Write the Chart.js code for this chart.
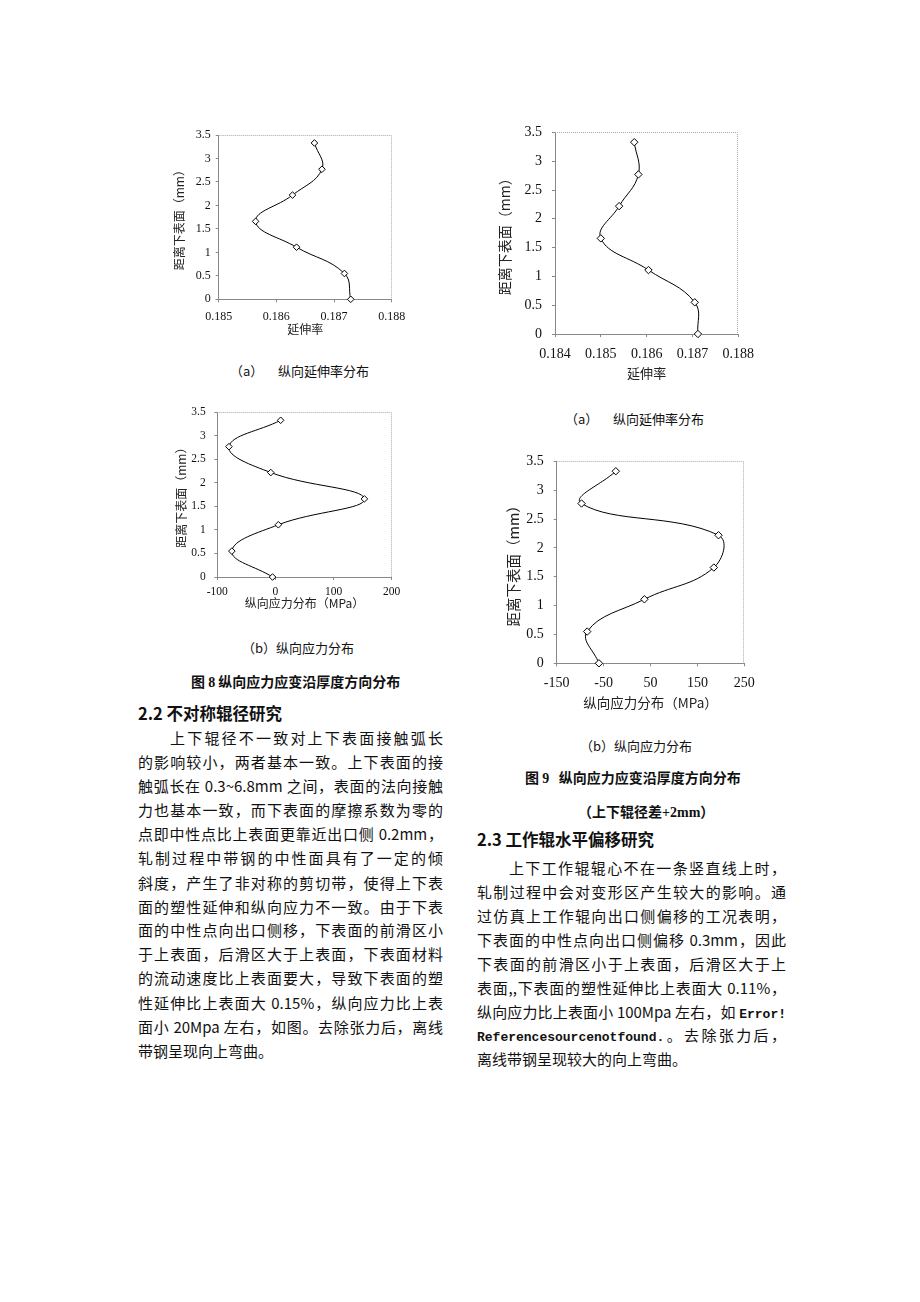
<!DOCTYPE html>
<html>
<head>
<meta charset="utf-8">
<script src="https://cdn.jsdelivr.net/npm/chart.js@4.4.1/dist/chart.umd.min.js"></script>
<style>
  body { margin: 0; width: 920px; height: 1302px; position: relative; overflow: hidden; background: #fff;
         font-family: "Noto Sans CJK SC", sans-serif; color: #111; }
  .chart { position: absolute; }
  .t { position: absolute; white-space: nowrap; line-height: 1; transform: translateY(-50%); }
  .cap { font-size: 13px; }
  .fig { font-size: 14px; font-weight: bold; }
  .head { font-size: 16.5px; font-weight: bold; }
  .ln { position: absolute; font-size: 15px; line-height: 1; white-space: nowrap; transform: translateY(-50%);
        text-align: justify; text-align-last: justify; }
  .ln.last { text-align-last: left; }
  .ln.ind { padding-left: 32px; box-sizing: border-box; }
  .mono { font-family: "Liberation Mono", monospace; font-weight: bold; font-size: 13px; }
  .num { font-family: "Liberation Serif", serif; }
</style>
</head>
<body>

<div id="c1" class="chart"></div>
<div id="c2" class="chart"></div>
<div id="c3" class="chart"></div>
<div id="c4" class="chart"></div>

<!-- captions, left column -->
<div class="t cap" style="left:230px; top:370px;">（a）&nbsp;&nbsp;&nbsp;&nbsp;&nbsp;纵向延伸率分布</div>
<div class="t cap" style="left:242px; top:647px;">（b）纵向应力分布</div>
<div class="t fig" style="left:191px; top:682px;">图 <span class="num">8</span> 纵向应力应变沿厚度方向分布</div>

<!-- captions, right column -->
<div class="t cap" style="left:565px; top:418px;">（a）&nbsp;&nbsp;&nbsp;&nbsp;&nbsp;纵向延伸率分布</div>
<div class="t cap" style="left:580px; top:745px;">（b）纵向应力分布</div>
<div class="t fig" style="left:525px; top:778px;">图 <span class="num">9</span>&nbsp;&nbsp;&nbsp;纵向应力应变沿厚度方向分布</div>
<div class="t fig" style="left:578px; top:812px;">（上下辊径差<span class="num">+2mm</span>）</div>

<!-- section 2.2 -->
<div class="t head" style="left:138px; top:713px;">2.2 不对称辊径研究</div>
<div class="ln ind" style="left:138px; width:305px; top:737px;">上下辊径不一致对上下表面接触弧长</div>
<div class="ln" style="left:138px; width:305px; top:761px;">的影响较小，两者基本一致。上下表面的接</div>
<div class="ln" style="left:138px; width:305px; top:785px;">触弧长在 0.3~6.8mm 之间，表面的法向接触</div>
<div class="ln" style="left:138px; width:305px; top:809px;">力也基本一致，而下表面的摩擦系数为零的</div>
<div class="ln" style="left:138px; width:305px; top:833px;">点即中性点比上表面更靠近出口侧 0.2mm，</div>
<div class="ln" style="left:138px; width:305px; top:857px;">轧制过程中带钢的中性面具有了一定的倾</div>
<div class="ln" style="left:138px; width:305px; top:882px;">斜度，产生了非对称的剪切带，使得上下表</div>
<div class="ln" style="left:138px; width:305px; top:906px;">面的塑性延伸和纵向应力不一致。由于下表</div>
<div class="ln" style="left:138px; width:305px; top:929px;">面的中性点向出口侧移，下表面的前滑区小</div>
<div class="ln" style="left:138px; width:305px; top:953px;">于上表面，后滑区大于上表面，下表面材料</div>
<div class="ln" style="left:138px; width:305px; top:977px;">的流动速度比上表面要大，导致下表面的塑</div>
<div class="ln" style="left:138px; width:305px; top:1002px;">性延伸比上表面大 0.15%，纵向应力比上表</div>
<div class="ln" style="left:138px; width:305px; top:1026px;">面小 20Mpa 左右，如图。去除张力后，离线</div>
<div class="ln last" style="left:138px; width:305px; top:1050px;">带钢呈现向上弯曲。</div>

<!-- section 2.3 -->
<div class="t head" style="left:477px; top:839px;">2.3 工作辊水平偏移研究</div>
<div class="ln ind" style="left:477px; width:309px; top:867px;">上下工作辊辊心不在一条竖直线上时，</div>
<div class="ln" style="left:477px; width:309px; top:891px;">轧制过程中会对变形区产生较大的影响。通</div>
<div class="ln" style="left:477px; width:309px; top:915px;">过仿真上工作辊向出口侧偏移的工况表明，</div>
<div class="ln" style="left:477px; width:309px; top:939px;">下表面的中性点向出口侧偏移 0.3mm，因此</div>
<div class="ln" style="left:477px; width:309px; top:963px;">下表面的前滑区小于上表面，后滑区大于上</div>
<div class="ln" style="left:477px; width:309px; top:987px;">表面,,下表面的塑性延伸比上表面大 0.11%，</div>
<div class="ln" style="left:477px; width:309px; top:1012px;">纵向应力比上表面小 100Mpa 左右，如 <span class="mono">Error!</span></div>
<div class="ln" style="left:477px; width:309px; top:1035px;"><span class="mono">Referencesourcenotfound.</span>。去除张力后，</div>
<div class="ln last" style="left:477px; width:309px; top:1058px;">离线带钢呈现较大的向上弯曲。</div>

<script>
// distance from lower surface (mm), shared by all four charts
const depth = [3.33, 2.77, 2.22, 1.66, 1.11, 0.55, 0];
const depthTicks = [0, 0.5, 1, 1.5, 2, 2.5, 3, 3.5];

// fig 8
const elong8 = [0.18666, 0.18679, 0.18628, 0.18564, 0.18635, 0.18718, 0.18729];
const elong8Ticks = [0.185, 0.186, 0.187, 0.188];
const stress8 = [9, -80, -8, 153, 5, -75, -5];
const stress8Ticks = [-100, 0, 100, 200];

// fig 9
const elong9 = [0.18573, 0.18582, 0.18540, 0.18500, 0.18604, 0.18705, 0.18712];
const elong9Ticks = [0.184, 0.185, 0.186, 0.187, 0.188];
const stress9 = [-24, -97, 195, 185, 37, -85, -60];
const stress9Ticks = [-150, -50, 50, 150, 250];

const Y_TITLE = "距离下表面（mm）";
const ELONG_TITLE = "延伸率";
const STRESS_TITLE = "纵向应力分布（MPa）";

// dotted frame on the top and right of the plot area
const plotFrame = {
  id: "plotFrame",
  beforeDatasetsDraw(chart) {
    const { ctx, chartArea: a } = chart;
    ctx.save();
    ctx.strokeStyle = "#a8a8a8";
    ctx.lineWidth = 1;
    ctx.setLineDash([1, 1]);
    ctx.beginPath();
    ctx.moveTo(a.left, Math.round(a.top) + 0.5);
    ctx.lineTo(Math.round(a.right) - 0.5, Math.round(a.top) + 0.5);
    ctx.lineTo(Math.round(a.right) - 0.5, a.bottom);
    ctx.stroke();
    ctx.restore();
  }
};

function makeChart(id, xs, xTicks, xTitle, g) {
  const lhX = g.titleSize * 1.2;
  const lhY = g.yTitleSize * 1.2;
  const bx = Math.round(g.yTitleX - 14);
  const by = Math.round(g.plot.t - 16);
  const bw = Math.round(g.plot.r + 24 - bx);
  const bh = Math.round(g.xTitleY + 12 - by);

  const padLeft = g.yTitleX - lhY / 2 - bx;
  const yWidth = g.plot.l - bx - padLeft;
  const padTop = g.plot.t - by;
  const padRight = bx + bw - g.plot.r;
  const xHeight = g.xTitleY + lhX / 2 - g.plot.b;
  const padBottom = by + bh - (g.plot.b + xHeight);

  const wrap = document.getElementById(id);
  wrap.style.left = bx + "px";
  wrap.style.top = by + "px";
  const canvas = document.createElement("canvas");
  canvas.width = bw;
  canvas.height = bh;
  wrap.appendChild(canvas);

  const tickFont = { family: "'Liberation Serif', serif", size: g.tickSize };
  const xTitleFont = { family: "'Noto Sans CJK SC', sans-serif", size: g.titleSize };
  const yTitleFont = { family: "'Noto Sans CJK SC', sans-serif", size: g.yTitleSize };
  const axisGrid = { drawOnChartArea: false, drawTicks: true, tickLength: 3, color: "#888" };

  new Chart(canvas.getContext("2d"), {
    type: "line",
    data: {
      datasets: [{
        data: xs.map((x, i) => ({ x, y: depth[i] })),
        borderColor: "#000",
        borderWidth: 1,
        tension: 0.42,
        fill: false,
        clip: false,
        pointStyle: "rectRot",
        pointRadius: g.pointR,
        pointBackgroundColor: "#fff",
        pointBorderColor: "#000",
        pointBorderWidth: 1
      }]
    },
    options: {
      responsive: false,
      animation: false,
      layout: { padding: { left: padLeft, top: padTop, right: padRight, bottom: padBottom } },
      plugins: { legend: { display: false }, tooltip: { enabled: false } },
      scales: {
        x: {
          type: "linear",
          min: xTicks[0],
          max: xTicks[xTicks.length - 1],
          afterBuildTicks: (s) => { s.ticks = xTicks.map((v) => ({ value: v })); },
          afterFit: (s) => { s.height = xHeight; },
          ticks: { font: tickFont, color: "#111", padding: g.xPad, maxRotation: 0, autoSkip: false,
                   callback: (v) => String(v) },
          grid: axisGrid,
          border: { color: "#888" },
          title: { display: true, text: xTitle, font: xTitleFont, color: "#222", padding: 0 }
        },
        y: {
          type: "linear",
          min: 0,
          max: 3.5,
          afterBuildTicks: (s) => { s.ticks = depthTicks.map((v) => ({ value: v })); },
          afterFit: (s) => { s.width = yWidth; },
          ticks: { font: tickFont, color: "#111", padding: g.yPad, autoSkip: false,
                   callback: (v) => String(v) },
          grid: axisGrid,
          border: { color: "#888" },
          title: { display: true, text: Y_TITLE, font: yTitleFont, color: "#222", padding: 0 }
        }
      }
    },
    plugins: [plotFrame]
  });
}

makeChart("c1", elong8, elong8Ticks, ELONG_TITLE, {
  plot: { l: 218.7, r: 391.7, t: 135, b: 299.3 },
  yTitleX: 179, xTitleY: 329.5, tickSize: 12, titleSize: 12, yTitleSize: 12, xPad: 7, yPad: 5, pointR: 3.3
});
makeChart("c2", elong9, elong9Ticks, ELONG_TITLE, {
  plot: { l: 555, r: 739.3, t: 130, b: 334 },
  yTitleX: 505, xTitleY: 373.3, tickSize: 14, titleSize: 13, yTitleSize: 14, xPad: 9, yPad: 10, pointR: 3.7
});
makeChart("c3", stress8, stress8Ticks, STRESS_TITLE, {
  plot: { l: 217.3, r: 391.7, t: 412.3, b: 577 },
  yTitleX: 181.7, xTitleY: 603, tickSize: 11.5, titleSize: 12, yTitleSize: 12, xPad: 5, yPad: 8.6, pointR: 3.3
});
makeChart("c4", stress9, stress9Ticks, STRESS_TITLE, {
  plot: { l: 556.7, r: 744.3, t: 458.7, b: 663.3 },
  yTitleX: 513, xTitleY: 703.3, tickSize: 14, titleSize: 13.5, yTitleSize: 14.5, xPad: 8.6, yPad: 10, pointR: 3.7
});
</script>
</body>
</html>
